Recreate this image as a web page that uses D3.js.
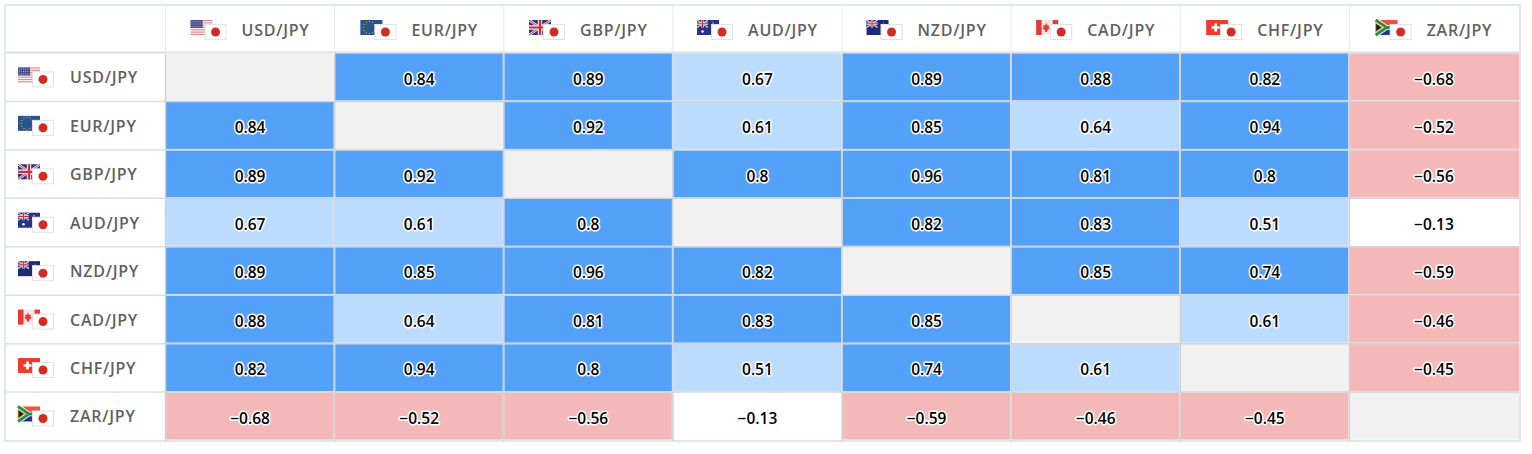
<!DOCTYPE html>
<html><head><meta charset="utf-8">
<script src="https://cdn.jsdelivr.net/npm/d3@7"></script>
<style>
html,body{margin:0;padding:0;background:#fff;overflow:hidden}
svg{display:block}
text{font-family:"Open Sans",sans-serif}
.lab{font-size:16px;font-weight:600;fill:#616161;letter-spacing:.75px;dominant-baseline:central}
.val{font-size:15.5px;font-weight:600;fill:#000;text-anchor:middle;dominant-baseline:central;stroke:#fff;stroke-width:3px;paint-order:stroke;stroke-linejoin:round}
</style></head><body>
<svg id="c" width="1532" height="454"></svg>
<script>
const pairs = ["USD/JPY","EUR/JPY","GBP/JPY","AUD/JPY","NZD/JPY","CAD/JPY","CHF/JPY","ZAR/JPY"];
const usdRow = [null,0.84,0.89,0.67,0.89,0.88,0.82,-0.68];
const eurRow = [0.84,null,0.92,0.61,0.85,0.64,0.94,-0.52];
const gbpRow = [0.89,0.92,null,0.8,0.96,0.81,0.8,-0.56];
const audRow = [0.67,0.61,0.8,null,0.82,0.83,0.51,-0.13];
const nzdRow = [0.89,0.85,0.96,0.82,null,0.85,0.74,-0.59];
const cadRow = [0.88,0.64,0.81,0.83,0.85,null,0.61,-0.46];
const chfRow = [0.82,0.94,0.8,0.51,0.74,0.61,null,-0.45];
const zarRow = [-0.68,-0.52,-0.56,-0.13,-0.59,-0.46,-0.45,null];
const matrix = [usdRow,eurRow,gbpRow,audRow,nzdRow,cadRow,chfRow,zarRow];
const colorThresholds = [-0.2,0.2,0.7];
const colorRange = ["#f4b8b8","#ffffff","#bbdcff","#54a1f9"];

const svg = d3.select("#c");
const x = d3.scaleBand().domain(d3.range(8)).range([165.5,1518.5]);
const y = d3.scaleBand().domain(d3.range(8)).range([53,440.5]);
const color = d3.scaleThreshold().domain(colorThresholds).range(colorRange);

svg.append("rect").attr("x",5).attr("y",5).attr("width",1515).attr("height",436)
  .attr("fill","#fff").attr("stroke","#e1e8ea").attr("stroke-width",2);

function stripes(g,ys,h,c){ys.forEach(v=>g.append("rect").attr("x",0).attr("y",v).attr("width",22).attr("height",h).attr("fill",c));}
function ukCorner(g,w,h){
  g.append("rect").attr("width",w).attr("height",h).attr("fill","#28357e");
  g.append("path").attr("d",`M0 0L${w} ${h}M${w} 0L0 ${h}`).attr("stroke","#d9c9d6").attr("stroke-width",1.4);
  g.append("path").attr("d",`M${w/2} 0V${h}M0 ${h/2}H${w}`).attr("stroke","#e8e0e6").attr("stroke-width",2.4);
  g.append("path").attr("d",`M${w/2} 0V${h}M0 ${h/2}H${w}`).attr("stroke","#c8334a").attr("stroke-width",1.1);
}
const flagDraw = {
  USD(g){
    g.append("rect").attr("width",22).attr("height",15).attr("fill","#fff");
    stripes(g,[0,2.3,4.6,6.9,9.2,11.5,13.8],1.2,"#e28a8c");
    g.append("rect").attr("width",12).attr("height",8).attr("fill","#4b4f88");
    [1.5,4,6.5].forEach(v=>g.append("path").attr("d",`M1 ${v}H11`).attr("stroke","#b9bcd6").attr("stroke-width",.8).attr("stroke-dasharray","1 1"));
  },
  EUR(g){
    g.append("rect").attr("width",22).attr("height",15).attr("fill","#27548c");
    d3.range(12).forEach(i=>g.append("rect").attr("x",9+6*Math.cos(i*Math.PI/6)-.5).attr("y",7.5+6*Math.sin(i*Math.PI/6)-.5).attr("width",1).attr("height",1).attr("fill","#d9c84a"));
  },
  GBP(g){
    g.append("rect").attr("width",22).attr("height",15).attr("fill","#28357e");
    g.append("path").attr("d","M0 0L22 15M22 0L0 15").attr("stroke","#e4dbe4").attr("stroke-width",2.6);
    g.append("path").attr("d","M0 0L22 15M22 0L0 15").attr("stroke","#c8334a").attr("stroke-width",.9);
    g.append("path").attr("d","M11 0V15M0 7.5H22").attr("stroke","#f1ecef").attr("stroke-width",4.4);
    g.append("path").attr("d","M11 0V15M0 7.5H22").attr("stroke","#cf2b3e").attr("stroke-width",2.2);
  },
  AUD(g){
    g.append("rect").attr("width",22).attr("height",15).attr("fill","#25338c");
    ukCorner(g,11,7.5);
    g.append("circle").attr("cx",5.5).attr("cy",11.5).attr("r",1.3).attr("fill","#fff");
    [[16,3],[19,6]].forEach(p=>g.append("circle").attr("cx",p[0]).attr("cy",p[1]).attr("r",.7).attr("fill","#dfe2f2"));
  },
  NZD(g){
    g.append("rect").attr("width",22).attr("height",15).attr("fill","#1d2a78");
    ukCorner(g,11,7.5);
    [[17,3],[19,6]].forEach(p=>g.append("circle").attr("cx",p[0]).attr("cy",p[1]).attr("r",.7).attr("fill","#d8596c"));
  },
  CAD(g){
    g.append("rect").attr("width",22).attr("height",15).attr("fill","#f8e6e6");
    g.append("rect").attr("width",5.5).attr("height",15).attr("fill","#e63a34");
    g.append("rect").attr("x",16.5).attr("width",5.5).attr("height",15).attr("fill","#e63a34");
    g.append("path").attr("d","M10 3L11.2 5.5L13 5L12.4 7.5L14 8L11 10.4V12H9V10.4L6 8L7.6 7.5L7 5L8.8 5.5Z").attr("fill","#e63a34");
  },
  CHF(g){
    g.append("rect").attr("width",22).attr("height",15).attr("fill","#f1392c");
    g.append("path").attr("d","M5.5 7.5H13.5M9.5 3.5V11.5").attr("stroke","#fff").attr("stroke-width",2.6);
  },
  ZAR(g){
    g.append("rect").attr("width",22).attr("height",7.5).attr("fill","#f0523f");
    g.append("rect").attr("y",7.5).attr("width",22).attr("height",7.5).attr("fill","#1f3590");
    g.append("path").attr("d","M0 0L11 7.5L0 15M11 7.5H22").attr("fill","none").attr("stroke","#fff").attr("stroke-width",4.6);
    g.append("path").attr("d","M0 0L11 7.5L0 15M11 7.5H22").attr("fill","none").attr("stroke","#2c8a4e").attr("stroke-width",2.8);
    g.append("path").attr("d","M0 3L6.5 7.5L0 12Z").attr("fill","#1c1c1c").attr("stroke","#e0b82e").attr("stroke-width",1);
  }
};
function flagPair(parent,code){
  const a = parent.append("g");
  flagDraw[code](a);
  const j = parent.append("g").attr("transform","translate(14,4)");
  j.append("rect").attr("x",.5).attr("y",.5).attr("width",21).attr("height",15).attr("fill","#fff").attr("stroke","#e2e2e2");
  j.append("circle").attr("cx",11).attr("cy",8).attr("r",4.5).attr("fill","#d32a22");
}

x.domain().forEach(i=>{
  svg.append("line").attr("x1",x(i)).attr("x2",x(i)).attr("y1",6).attr("y2",53).attr("stroke","#e6e8ea").attr("stroke-width",1);
});
svg.append("line").attr("x1",6).attr("x2",1519).attr("y1",52.5).attr("y2",52.5).attr("stroke","#dcdfe3").attr("stroke-width",2);
y.domain().slice(1).forEach(i=>{
  svg.append("line").attr("x1",6).attr("x2",166).attr("y1",y(i)).attr("y2",y(i)).attr("stroke","#dedede").attr("stroke-width",1.5);
});

const cells = matrix.flatMap((row,r)=>row.map((v,c)=>({r,c,v})));
svg.append("g").selectAll("rect").data(cells).join("rect")
  .attr("x",d=>x(d.c)+.5)
  .attr("y",d=>y(d.r)+.5)
  .attr("width",d=>x.bandwidth()-(d.c===7?0:1.5))
  .attr("height",y.bandwidth()-1.5)
  .attr("fill",d=>d.v===null?"#f1f1f1":color(d.v));
x.domain().forEach(i=>svg.append("line").attr("x1",x(i)).attr("x2",x(i)).attr("y1",54).attr("y2",441).attr("stroke","#d2d2d2").attr("stroke-width",1.5));
y.domain().slice(1).forEach(i=>svg.append("line").attr("x1",166).attr("x2",1519).attr("y1",y(i)).attr("y2",y(i)).attr("stroke","#d2d2d2").attr("stroke-width",1.5));

const fmt = v=>String(v).replace("-","\u2212");
svg.append("g").selectAll("text").data(cells.filter(d=>d.v!==null)).join("text")
  .attr("class","val")
  .attr("x",d=>x(d.c)+x.bandwidth()/2)
  .attr("y",d=>y(d.r)+y.bandwidth()/2+1.5)
  .text(d=>fmt(d.v));

pairs.forEach((p,i)=>{
  const g = svg.append("g");
  const t = g.append("text").attr("class","lab").attr("x",51).attr("y",10).text(p);
  const w = 51 + t.node().getComputedTextLength();
  g.attr("transform",`translate(${x(i)+x.bandwidth()/2-w/2},20)`);
  flagPair(g,p.slice(0,3));
  t.raise();
  const l = svg.append("g").attr("transform",`translate(18,${y(i)+y.bandwidth()/2-9.8})`);
  flagPair(l,p.slice(0,3));
  l.append("text").attr("class","lab").attr("x",52).attr("y",10).text(p);
});
</script></body></html>
